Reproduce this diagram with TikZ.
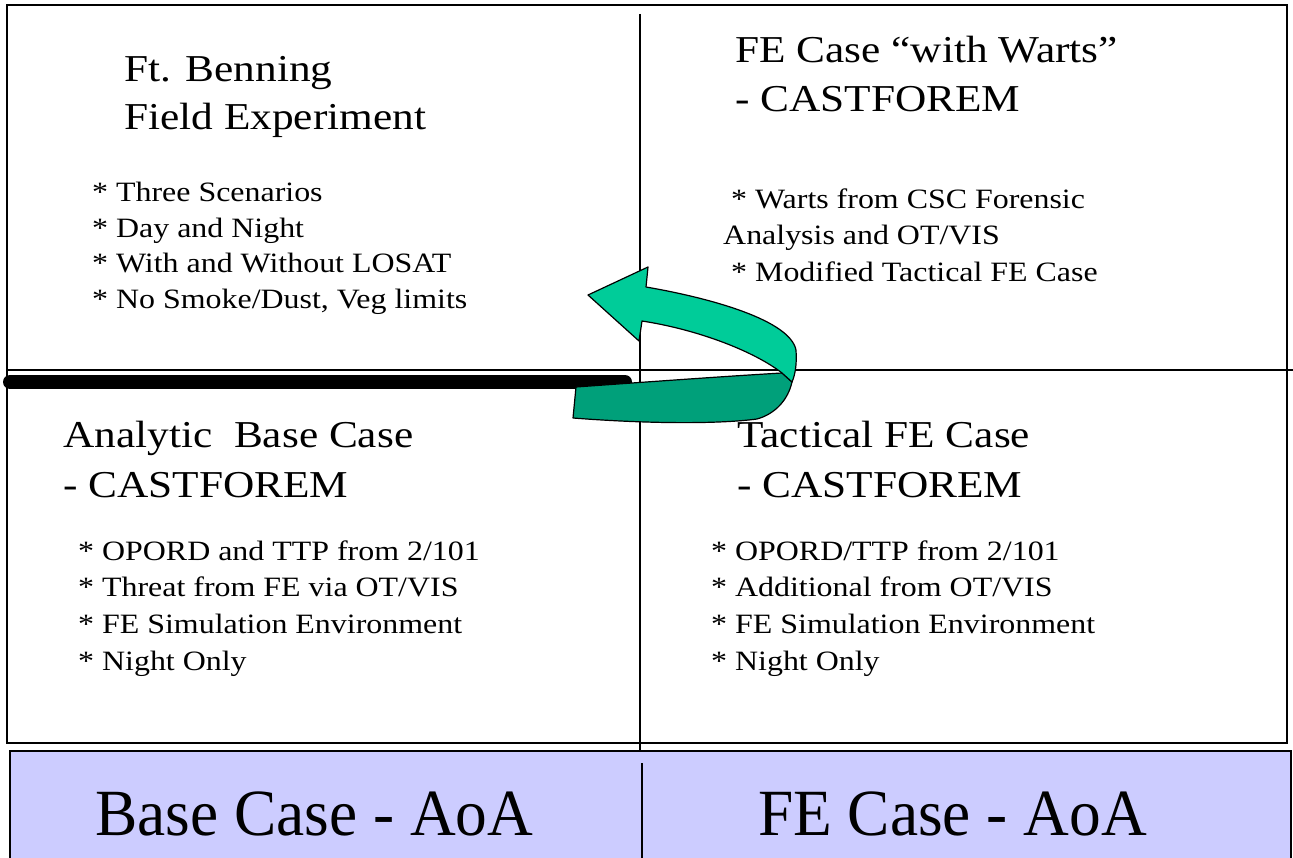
\documentclass[tikz,border=0pt]{standalone}
\usepackage{fontspec}
\setmainfont{Liberation Serif}
\newfontfamily\widefont{Liberation Serif}[FakeStretch=1.14]
\newfontfamily\narrowfont{Liberation Serif}[FakeStretch=0.96]
\definecolor{lightgreen}{HTML}{00CC99}
\definecolor{darkgreen}{HTML}{00A07A}
\definecolor{paleblue}{HTML}{CCCCFF}
\tikzset{
  titletext/.style={anchor=base west, inner sep=0pt, font=\widefont\fontsize{38}{48}\selectfont},
  bodytext/.style={anchor=base west, inner sep=0pt, font=\widefont\fontsize{28}{35.7}\selectfont},
  bigtext/.style={anchor=base west, inner sep=0pt, font=\narrowfont\fontsize{66}{70}\selectfont},
  frame/.style={draw=black, line width=1.6pt},
  divider/.style={draw=black, line width=1.4pt},
  ribbon/.style={draw=black, line width=1.2pt, line join=round}
}
\begin{document}
\begin{tikzpicture}[x=1pt,y=-1pt]
\useasboundingbox (0,0) rectangle (1293,858);
\fill[white] (0,0) rectangle (1293,858);
% outer box
\draw[frame] (7,5) rectangle (1287,743);
% blue bar
\draw[line width=2.4pt, fill=paleblue] (10,751) rectangle (1291,875);
% dividers
\draw[divider] (640,14) -- (640,750);
\draw[divider] (8,370) -- (1293,370);
\draw[divider] (642,763) -- (642,858);
% thick bar
\coordinate (barL) at (10,382);
\coordinate (barR) at (625,382);
\draw[line width=14pt, line cap=round] (barL) -- (barR);
% curved arrow: back (dark) part
\fill[darkgreen, ribbon] (576,387)
  .. controls (660,381) and (730,376) .. (782,373)
  -- (792,382)
  .. controls (788,400) and (775,414) .. (757,419)
  .. controls (720,424) and (650,424) .. (573,418)
  -- cycle;
% front (light) part
\fill[lightgreen, ribbon] (782,373)
  .. controls (755,352) and (700,330) .. (642,321)
  -- (639,341) -- (588,295) -- (648,267) -- (646,287)
  .. controls (710,298) and (790,320) .. (796,350)
  .. controls (797,365) and (795,375) .. (792,382)
  -- cycle;
% top-left quadrant
\node[titletext] (t1a) at (124,82) {Ft. Benning};
\node[titletext] (t1b) at (124,130) {Field Experiment};
\node[bodytext] (b1a) at (92,202) {* Three Scenarios};
\node[bodytext] (b1b) at (92,238) {* Day and Night};
\node[bodytext] (b1c) at (92,273) {* With and Without LOSAT};
\node[bodytext] (b1d) at (92,309) {* No Smoke/Dust, Veg limits};
% top-right quadrant
\node[titletext] (t2a) at (735,63) {FE Case “with Warts”};
\node[titletext] (t2b) at (735,112) {- CASTFOREM};
\node[bodytext] (b2a) at (723,209) {\ * Warts from CSC Forensic};
\node[bodytext] (b2b) at (723,245) {Analysis and OT/VIS};
\node[bodytext] (b2c) at (723,282) {\ * Modified Tactical FE Case};
% bottom-left quadrant
\node[titletext] (t3a) at (63,447) {Analytic\ \ Base Case};
\node[titletext] (t3b) at (63,497) {- CASTFOREM};
\node[bodytext] (b3a) at (78,560) {* OPORD and TTP from 2/101};
\node[bodytext] (b3b) at (78,596) {* Threat from FE via OT/VIS};
\node[bodytext] (b3c) at (78,633) {* FE Simulation Environment};
\node[bodytext] (b3d) at (78,670) {* Night Only};
% bottom-right quadrant
\node[titletext] (t4a) at (737,447) {Tactical FE Case};
\node[titletext] (t4b) at (737,497) {- CASTFOREM};
\node[bodytext] (b4a) at (711,560) {* OPORD/TTP from 2/101};
\node[bodytext] (b4b) at (711,596) {* Additional from OT/VIS};
\node[bodytext] (b4c) at (711,633) {* FE Simulation Environment};
\node[bodytext] (b4d) at (711,670) {* Night Only};
% bottom bar
\node[bigtext] (c1) at (95,835) {Base Case - AoA};
\node[bigtext] (c2) at (758,835) {FE Case - AoA};
\end{tikzpicture}
\end{document}
